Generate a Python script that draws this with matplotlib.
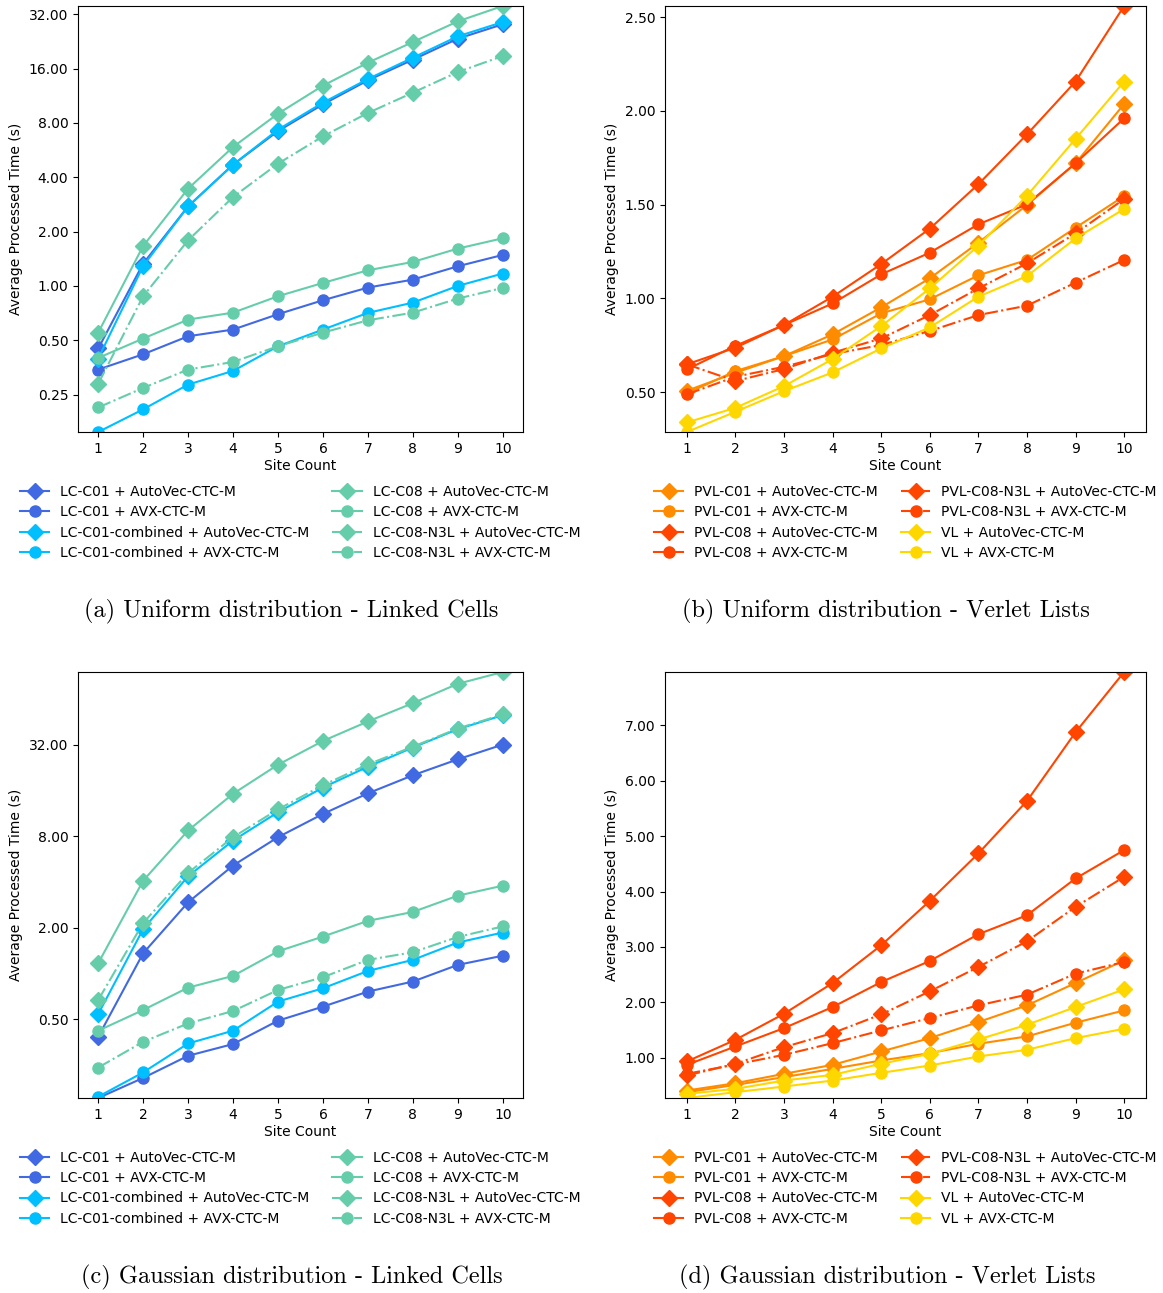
import matplotlib
matplotlib.use('Agg')
import matplotlib.pyplot as plt
from matplotlib.ticker import FixedLocator, FormatStrFormatter, NullLocator

sites = list(range(1, 11))

# uniform distribution, linked cells
uni_lc_c01_autovec = [0.450, 1.33, 2.76, 4.70, 7.22, 10.15, 13.79, 17.95, 23.46, 28.2]
uni_lc_c01_avx = [0.344, 0.418, 0.526, 0.573, 0.697, 0.833, 0.979, 1.084, 1.285, 1.485]
uni_lc_c01c_autovec = [0.396, 1.29, 2.76, 4.70, 7.35, 10.37, 14.02, 18.41, 24.17, 29.0]
uni_lc_c01c_avx = [0.155, 0.207, 0.284, 0.338, 0.463, 0.573, 0.709, 0.808, 1.0, 1.171]
uni_lc_c08_autovec = [0.551, 1.666, 3.46, 5.89, 9.01, 12.88, 17.27, 22.48, 29.27, 35.6]
uni_lc_c08_avx = [0.399, 0.511, 0.651, 0.711, 0.877, 1.039, 1.221, 1.358, 1.610, 1.837]
uni_lc_n3l_autovec = [0.287, 0.877, 1.79, 3.11, 4.76, 6.75, 9.09, 11.78, 15.33, 18.81]
uni_lc_n3l_avx = [0.212, 0.272, 0.344, 0.379, 0.463, 0.551, 0.645, 0.711, 0.851, 0.975]

# uniform distribution, verlet lists
uni_pvl_c01_autovec = [0.507, 0.603, 0.692, 0.808, 0.952, 1.107, 1.297, 1.498, 1.721, 2.037]
uni_pvl_c01_avx = [0.493, 0.612, 0.692, 0.781, 0.920, 0.995, 1.123, 1.205, 1.377, 1.546]
uni_pvl_c08_autovec = [0.648, 0.737, 0.858, 1.009, 1.183, 1.372, 1.609, 1.875, 2.157, 2.56]
uni_pvl_c08_avx = [0.621, 0.747, 0.858, 0.973, 1.128, 1.244, 1.395, 1.502, 1.721, 1.961]
uni_pvl_n3l_autovec = [0.648, 0.559, 0.623, 0.710, 0.786, 0.911, 1.053, 1.187, 1.347, 1.530]
uni_pvl_n3l_avx = [0.488, 0.582, 0.635, 0.703, 0.751, 0.826, 0.911, 0.961, 1.084, 1.205]
uni_vl_autovec = [0.338, 0.416, 0.532, 0.676, 0.852, 1.053, 1.281, 1.548, 1.851, 2.157]
uni_vl_avx = [0.287, 0.395, 0.505, 0.605, 0.733, 0.845, 1.009, 1.119, 1.320, 1.477]

# gaussian distribution, linked cells
gau_lc_c01_autovec = [0.384, 1.36, 2.94, 5.13, 7.88, 11.2, 15.3, 20.1, 25.6, 32.0]
gau_lc_c01_avx = [0.152, 0.206, 0.288, 0.344, 0.490, 0.606, 0.761, 0.886, 1.14, 1.31]
gau_lc_c01c_autovec = [0.542, 1.96, 4.36, 7.49, 11.5, 16.7, 22.9, 30.6, 40.4, 49.9]
gau_lc_c01c_avx = [0.155, 0.224, 0.347, 0.421, 0.654, 0.800, 1.04, 1.23, 1.60, 1.86]
gau_lc_c08_autovec = [1.17, 4.08, 8.72, 15.2, 23.6, 33.8, 45.4, 59.9, 80.3, 96.0]
gau_lc_c08_avx = [0.421, 0.576, 0.808, 0.965, 1.40, 1.75, 2.22, 2.54, 3.25, 3.78]
gau_lc_n3l_autovec = [0.67, 2.15, 4.59, 7.88, 12.0, 17.3, 23.7, 31.0, 40.8, 50.5]
gau_lc_n3l_avx = [0.241, 0.356, 0.470, 0.567, 0.780, 0.946, 1.23, 1.38, 1.74, 2.04]

# gaussian distribution, verlet lists
gau_pvl_c01_autovec = [0.410, 0.542, 0.711, 0.873, 1.114, 1.355, 1.645, 1.946, 2.349, 2.759]
gau_pvl_c01_avx = [0.380, 0.512, 0.651, 0.801, 0.952, 1.084, 1.253, 1.386, 1.633, 1.855]
gau_pvl_c08_autovec = [0.934, 1.325, 1.795, 2.349, 3.030, 3.831, 4.687, 5.633, 6.873, 7.96]
gau_pvl_c08_avx = [0.873, 1.205, 1.536, 1.916, 2.367, 2.747, 3.229, 3.572, 4.235, 4.747]
gau_pvl_n3l_autovec = [0.681, 0.892, 1.193, 1.446, 1.783, 2.199, 2.639, 3.102, 3.723, 4.265]
gau_pvl_n3l_avx = [0.711, 0.880, 1.054, 1.265, 1.494, 1.717, 1.946, 2.139, 2.518, 2.729]
gau_vl_autovec = [0.349, 0.440, 0.590, 0.693, 0.892, 1.072, 1.331, 1.596, 1.916, 2.235]
gau_vl_avx = [0.275, 0.380, 0.482, 0.590, 0.729, 0.861, 1.024, 1.145, 1.355, 1.524]

lc_labels = ['LC-C01 + AutoVec-CTC-M', 'LC-C01 + AVX-CTC-M',
             'LC-C01-combined + AutoVec-CTC-M', 'LC-C01-combined + AVX-CTC-M',
             'LC-C08 + AutoVec-CTC-M', 'LC-C08 + AVX-CTC-M',
             'LC-C08-N3L + AutoVec-CTC-M', 'LC-C08-N3L + AVX-CTC-M']
vl_labels = ['PVL-C01 + AutoVec-CTC-M', 'PVL-C01 + AVX-CTC-M',
             'PVL-C08 + AutoVec-CTC-M', 'PVL-C08 + AVX-CTC-M',
             'PVL-C08-N3L + AutoVec-CTC-M', 'PVL-C08-N3L + AVX-CTC-M',
             'VL + AutoVec-CTC-M', 'VL + AVX-CTC-M']

lc_colors = ['royalblue', 'royalblue', 'deepskyblue', 'deepskyblue',
             'mediumaquamarine', 'mediumaquamarine', 'mediumaquamarine', 'mediumaquamarine']
vl_colors = ['darkorange', 'darkorange', 'orangered', 'orangered',
             'orangered', 'orangered', 'gold', 'gold']
markers = ['D', 'o', 'D', 'o', 'D', 'o', 'D', 'o']
lc_styles = ['-', '-', '-', '-', '-', '-', '-.', '-.']
vl_styles = ['-', '-', '-', '-', '-.', '-.', '-', '-']

W, H = 1163, 1293


def px_box(left, top, right, bottom):
    return [left / W, 1 - bottom / H, (right - left) / W, (bottom - top) / H]


def draw_panel(fig, box, series, labels, colors, styles, log, yticks,
               legend_xy, caption, caption_xy):
    ax = fig.add_axes(box)
    for vals, lab, col, mk, ls in zip(series, labels, colors, markers, styles):
        ax.plot(sites, vals, color=col, marker=mk, linestyle=ls, markersize=8, label=lab)
    lo = min(min(v) for v in series)
    hi = max(max(v) for v in series)
    if log:
        ax.set_yscale('log', base=2)
    ax.set_ylim(lo, hi)
    ax.yaxis.set_major_locator(FixedLocator(yticks))
    ax.yaxis.set_minor_locator(NullLocator())
    ax.yaxis.set_major_formatter(FormatStrFormatter('%.2f'))
    ax.set_xticks(sites)
    ax.set_xlabel('Site Count', labelpad=2)
    ax.set_ylabel('Average Processed Time (s)')
    ax.legend(ncol=2, loc='upper left', bbox_to_anchor=(legend_xy[0] / W, 1 - legend_xy[1] / H),
              bbox_transform=fig.transFigure, frameon=False, borderpad=0, borderaxespad=0,
              labelspacing=0.45, handlelength=2.1, handletextpad=0.8, columnspacing=1.65)
    fig.text(caption_xy[0] / W, 1 - caption_xy[1] / H, caption, ha='center', va='center',
             fontfamily='cmr10', fontsize=17.5)
    return ax


fig = plt.figure(figsize=(W / 100, H / 100), dpi=100)

draw_panel(fig, px_box(78, 6, 523, 432),
           [uni_lc_c01_autovec, uni_lc_c01_avx, uni_lc_c01c_autovec, uni_lc_c01c_avx,
            uni_lc_c08_autovec, uni_lc_c08_avx, uni_lc_n3l_autovec, uni_lc_n3l_avx],
           lc_labels, lc_colors, lc_styles, True, [0.25, 0.5, 1, 2, 4, 8, 16, 32],
           (20, 485), '(a) Uniform distribution - Linked Cells', (291, 611))

draw_panel(fig, px_box(665, 6, 1146, 432),
           [uni_pvl_c01_autovec, uni_pvl_c01_avx, uni_pvl_c08_autovec, uni_pvl_c08_avx,
            uni_pvl_n3l_autovec, uni_pvl_n3l_avx, uni_vl_autovec, uni_vl_avx],
           vl_labels, vl_colors, vl_styles, False, [0.5, 1.0, 1.5, 2.0, 2.5],
           (654, 485), '(b) Uniform distribution - Verlet Lists', (886, 611))

draw_panel(fig, px_box(78, 672, 523, 1098),
           [gau_lc_c01_autovec, gau_lc_c01_avx, gau_lc_c01c_autovec, gau_lc_c01c_avx,
            gau_lc_c08_autovec, gau_lc_c08_avx, gau_lc_n3l_autovec, gau_lc_n3l_avx],
           lc_labels, lc_colors, lc_styles, True, [0.5, 2, 8, 32],
           (20, 1151), '(c) Gaussian distribution - Linked Cells', (292, 1277))

draw_panel(fig, px_box(665, 672, 1146, 1098),
           [gau_pvl_c01_autovec, gau_pvl_c01_avx, gau_pvl_c08_autovec, gau_pvl_c08_avx,
            gau_pvl_n3l_autovec, gau_pvl_n3l_avx, gau_vl_autovec, gau_vl_avx],
           vl_labels, vl_colors, vl_styles, False, [1, 2, 3, 4, 5, 6, 7],
           (654, 1151), '(d) Gaussian distribution - Verlet Lists', (887, 1277))

fig.savefig('out.png', dpi=100)
plt.close(fig)
